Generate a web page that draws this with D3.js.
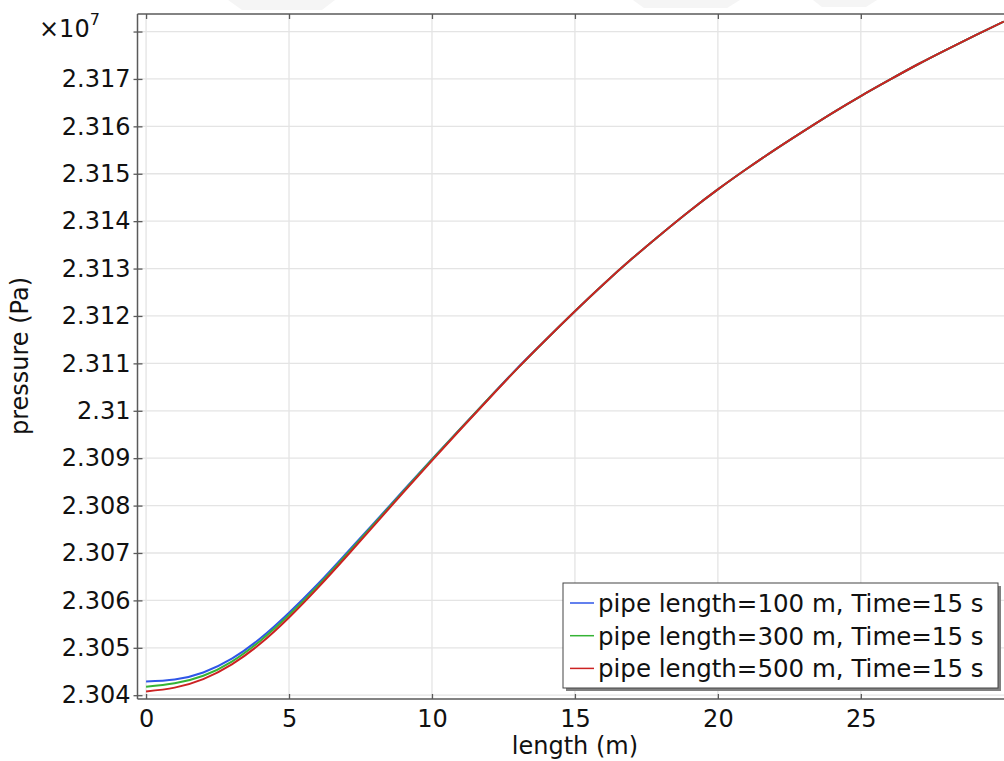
<!DOCTYPE html>
<html>
<head>
<meta charset="utf-8">
<script src="https://cdn.jsdelivr.net/npm/d3@7"></script>
<style>
  html, body { margin: 0; padding: 0; background: #ffffff; }
  svg { display: block; }
  text { font-family: "DejaVu Sans", sans-serif; fill: #111; }
</style>
</head>
<body>
<div id="chart"></div>
<script>
// ---- data ----
const lengthM = [0,1,2,3,4,5,6,7,8,9,10,11,12,13,14,15,16,17,18,19,20,21,22,23,24,25,26,27,28,29,30];

const pressure100 = [23042900,23043300,23044800,23047700,23052000,23057400,23063400,23069900,23076500,23083200,
                     23089800,23096300,23102700,23109100,23115100,23121000,23126700,23132100,23137200,23142100,
                     23146700,23151000,23155100,23159000,23162800,23166400,23169800,23173100,23176200,23179200,23182100];
const pressure300 = [23041800,23042500,23044100,23047100,23051500,23056900,23063000,23069600,23076300,23083000,
                     23089700,23096200,23102700,23109000,23115100,23121000,23126700,23132100,23137200,23142100,
                     23146700,23151000,23155100,23159000,23162800,23166400,23169800,23173100,23176200,23179200,23182100];
const pressure500 = [23040800,23041600,23043400,23046500,23050900,23056400,23062600,23069200,23076000,23082800,
                     23089500,23096100,23102600,23109000,23115100,23121000,23126700,23132100,23137200,23142100,
                     23146700,23151000,23155100,23159000,23162800,23166400,23169800,23173100,23176200,23179200,23182100];

const seriesNames = ["pipe length=100 m, Time=15 s", "pipe length=300 m, Time=15 s", "pipe length=500 m, Time=15 s"];
const seriesColors = ["#2f56e8", "#35b335", "#cc2222"];

const xTicks = [0, 5, 10, 15, 20, 25];
const xTickLabels = ["0", "5", "10", "15", "20", "25"];
const yTicks = [23040000,23050000,23060000,23070000,23080000,23090000,23100000,23110000,23120000,23130000,23140000,23150000,23160000,23170000,23180000];
const yTickLabels = ["2.304","2.305","2.306","2.307","2.308","2.309","2.31","2.311","2.312","2.313","2.314","2.315","2.316","2.317",""];

const xTitle = "length (m)";
const yTitle = "pressure (Pa)";

// ---- layout ----
const W = 1004, H = 761;
const plot = { left: 137.5, top: 14, bottom: 699, right: 1004 };

const svg = d3.select("#chart").append("svg").attr("width", W).attr("height", H);

// very faint watermark shapes at the very top of the page
const wm = [[[228,0],[335,0],[322,10],[242,10]], [[633,0],[740,0],[727,8],[644,8]], [[813,0],[877,0],[866,7],[822,7]]];
svg.selectAll(".wm").data(wm).enter().append("polygon")
  .attr("points", d => d.map(p => p.join(",")).join(" "))
  .attr("fill", "#f5f5f5");

const x = d3.scaleLinear().domain([-0.3, 30.3]).range([137.5, 137.5 + 30.6 * 28.59]);
const y = d3.scaleLinear().domain([23039200, 23183700]).range([plot.bottom, plot.top]);

svg.append("defs").append("clipPath").attr("id", "clip")
  .append("rect").attr("x", plot.left).attr("y", plot.top)
  .attr("width", plot.right - plot.left).attr("height", plot.bottom - plot.top);

svg.append("rect").attr("x", plot.left).attr("y", plot.top)
  .attr("width", plot.right - plot.left).attr("height", plot.bottom - plot.top).attr("fill", "#fff");

// grid
const grid = svg.append("g").attr("clip-path", "url(#clip)");
grid.selectAll(".gx").data(xTicks).enter().append("line")
  .attr("x1", d => x(d)).attr("x2", d => x(d))
  .attr("y1", plot.top).attr("y2", plot.bottom)
  .attr("stroke", "#e4e4e4").attr("stroke-width", 1.3);
grid.selectAll(".gy").data(yTicks).enter().append("line")
  .attr("y1", d => y(d)).attr("y2", d => y(d))
  .attr("x1", plot.left).attr("x2", plot.right)
  .attr("stroke", "#e4e4e4").attr("stroke-width", 1.3);

// lines
const seriesData = [pressure100, pressure300, pressure500];
const line = d3.line().x((d, i) => x(lengthM[i])).y(d => y(d)).curve(d3.curveNatural);
const lines = svg.append("g").attr("clip-path", "url(#clip)");
seriesData.forEach((s, k) => {
  lines.append("path").datum(s).attr("d", line)
    .attr("fill", "none").attr("stroke", seriesColors[k]).attr("stroke-width", 2);
});

// frame
const frame = svg.append("g").attr("stroke", "#5a5a5a").attr("stroke-width", 1.5).attr("fill", "none");
frame.append("line").attr("x1", plot.left).attr("x2", plot.right).attr("y1", plot.top).attr("y2", plot.top);
frame.append("line").attr("x1", plot.left).attr("x2", plot.left).attr("y1", plot.top).attr("y2", plot.bottom);
frame.append("line").attr("x1", plot.left).attr("x2", plot.right).attr("y1", plot.bottom).attr("y2", plot.bottom);

// axes ticks via d3 axes
const xAxisB = d3.axisBottom(x).tickValues(xTicks).tickSize(-5).tickSizeOuter(0)
  .tickFormat((d, i) => xTickLabels[i]).tickPadding(11);
const gxb = svg.append("g").attr("transform", `translate(0,${plot.bottom})`).call(xAxisB);
gxb.select(".domain").remove();
gxb.selectAll(".tick line").attr("stroke", "#5a5a5a").attr("stroke-width", 1.3);
gxb.selectAll(".tick text").attr("font-size", 24).attr("font-family", "DejaVu Sans").attr("fill", "#111");

const xAxisT = d3.axisTop(x).tickValues(xTicks).tickSize(-5).tickSizeOuter(0).tickFormat("");
const gxt = svg.append("g").attr("transform", `translate(0,${plot.top})`).call(xAxisT);
gxt.select(".domain").remove();
gxt.selectAll(".tick line").attr("stroke", "#5a5a5a").attr("stroke-width", 1.3);

const yAxisL = d3.axisLeft(y).tickValues(yTicks).tickSize(4).tickSizeOuter(0)
  .tickFormat((d, i) => yTickLabels[i]).tickPadding(3);
const gyl = svg.append("g").attr("transform", `translate(${plot.left},0)`).call(yAxisL);
gyl.select(".domain").remove();
gyl.selectAll(".tick line").attr("stroke", "#5a5a5a").attr("stroke-width", 1.3).attr("x2", 5).attr("x1", -4);
gyl.selectAll(".tick text").attr("font-size", 24).attr("font-family", "DejaVu Sans").attr("fill", "#111");

// exponent label
const expo = svg.append("text").attr("x", 39).attr("y", 37).attr("font-size", 24);
expo.append("tspan").text("×10");
expo.append("tspan").attr("font-size", 16).attr("dy", -12).text("7");

// axis titles
svg.append("text").attr("x", x(15)).attr("y", 754).attr("text-anchor", "middle")
  .attr("font-size", 24).text(xTitle);
svg.append("text").attr("transform", "translate(28,356) rotate(-90)").attr("text-anchor", "middle")
  .attr("font-size", 24).text(yTitle);

// legend
const lg = { x: 563, y: 583, w: 435, h: 105 };
svg.append("rect").attr("x", lg.x + 3).attr("y", lg.y + 3).attr("width", lg.w).attr("height", lg.h).attr("fill", "#808080");
svg.append("rect").attr("x", lg.x).attr("y", lg.y).attr("width", lg.w).attr("height", lg.h)
  .attr("fill", "#fff").attr("stroke", "#444").attr("stroke-width", 1);
seriesNames.forEach((name, k) => {
  const cy = 603 + k * 32.7;
  svg.append("line").attr("x1", 570).attr("x2", 594).attr("y1", cy).attr("y2", cy)
    .attr("stroke", seriesColors[k]).attr("stroke-width", 1.5);
  svg.append("text").attr("x", 598).attr("y", cy).attr("dy", "0.36em").attr("font-size", 24.5).text(name);
});
</script>
</body>
</html>
